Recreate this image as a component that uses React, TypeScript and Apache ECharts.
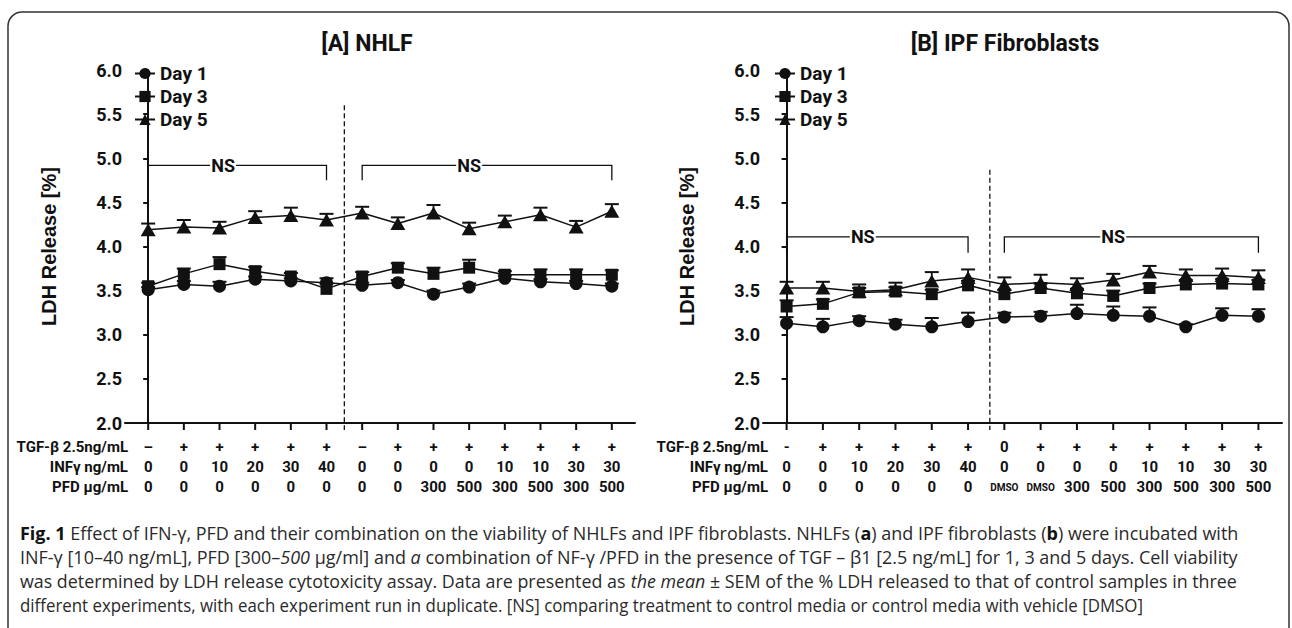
import { useEffect, useRef } from 'react';
import * as echarts from 'echarts';

const NARROW = "Roboto, 'Liberation Sans', sans-serif";
const WIDE = "'Liberation Sans', Arial, sans-serif";
const CAPFONT = "'Open Sans', 'Noto Sans', sans-serif";
const INK = '#111';

// category positions (14 treatment columns)
const positions = [0, 1, 2, 3, 4, 5, 6, 7, 8, 9, 10, 11, 12, 13];

// table rows under each panel
const rowLabels = ['TGF-β 2.5ng/mL', 'INFγ ng/mL', 'PFD µg/mL'];
const tgfA = ['–', '+', '+', '+', '+', '+', '–', '+', '+', '+', '+', '+', '+', '+'];
const infA = ['0', '0', '10', '20', '30', '40', '0', '0', '0', '0', '10', '10', '30', '30'];
const pfdA = ['0', '0', '0', '0', '0', '0', '0', '0', '300', '500', '300', '500', '300', '500'];
const tgfB = ['-', '+', '+', '+', '+', '+', '0', '+', '+', '+', '+', '+', '+', '+'];
const infB = ['0', '0', '10', '20', '30', '40', '0', '0', '0', '0', '10', '10', '30', '30'];
const pfdB = ['0', '0', '0', '0', '0', '0', 'DMSO', 'DMSO', '300', '500', '300', '500', '300', '500'];

// Panel A: NHLF
const day1A = [3.51, 3.57, 3.55, 3.63, 3.61, 3.59, 3.56, 3.59, 3.46, 3.54, 3.64, 3.6, 3.58, 3.55];
const day1AErr = [0.03, 0.04, 0.05, 0.03, 0.03, 0.05, 0.03, 0.03, 0.04, 0.04, 0.03, 0.03, 0.03, 0.03];
const day3A = [3.55, 3.69, 3.8, 3.72, 3.66, 3.52, 3.66, 3.76, 3.69, 3.76, 3.68, 3.68, 3.68, 3.68];
const day3AErr = [0.04, 0.06, 0.08, 0.05, 0.04, 0.06, 0.05, 0.05, 0.07, 0.09, 0.04, 0.06, 0.06, 0.05];
const day5A = [4.19, 4.22, 4.21, 4.33, 4.35, 4.3, 4.38, 4.26, 4.38, 4.2, 4.28, 4.36, 4.22, 4.4];
const day5AErr = [0.07, 0.08, 0.07, 0.07, 0.09, 0.07, 0.07, 0.07, 0.09, 0.07, 0.07, 0.08, 0.07, 0.08];

// Panel B: IPF fibroblasts
const day1B = [3.13, 3.09, 3.16, 3.12, 3.09, 3.15, 3.2, 3.21, 3.24, 3.22, 3.21, 3.09, 3.22, 3.21];
const day1BErr = [0.07, 0.09, 0.05, 0.05, 0.1, 0.1, 0.05, 0.05, 0.1, 0.1, 0.1, 0.03, 0.08, 0.08];
const day3B = [3.32, 3.35, 3.48, 3.49, 3.46, 3.56, 3.46, 3.53, 3.47, 3.44, 3.53, 3.57, 3.58, 3.57];
const day3BErr = [0.07, 0.05, 0.05, 0.05, 0.05, 0.05, 0.05, 0.05, 0.05, 0.06, 0.05, 0.05, 0.05, 0.05];
const day5B = [3.53, 3.53, 3.49, 3.51, 3.61, 3.65, 3.57, 3.59, 3.57, 3.62, 3.71, 3.67, 3.67, 3.65];
const day5BErr = [0.07, 0.07, 0.08, 0.08, 0.1, 0.09, 0.08, 0.09, 0.07, 0.07, 0.07, 0.07, 0.08, 0.08];

// separator and NS brackets
const sepXA = 5.5;
const sepTopA = 5.6;
const sepXB = 5.6;
const sepTopB = 4.87;
const bracketFrom = [0, 6];
const bracketTo = [5, 13];
const bracketNS = [2.1, 9];
const bracketTopA = 4.92;
const bracketDropA = 4.75;
const bracketTopB = 4.11;
const bracketDropB = 3.93;

const dayNames = ['Day 1', 'Day 3', 'Day 5'];
const daySymbols = ['circle', 'rect', 'triangle'];
const daySizes: any[] = [13, 12, [15, 13]];

const captionLines: string[][][] = [
  [['b', 'Fig. 1'], ['n', ' Effect of IFN-γ, PFD and their combination on the viability of NHLFs and IPF fibroblasts. NHLFs ('], ['b', 'a'], ['n', ') and IPF fibroblasts ('], ['b', 'b'], ['n', ') were incubated with']],
  [['n', 'INF-γ [10–40 ng/mL], PFD [300–'], ['i', '500'], ['n', ' µg/ml] and '], ['i', 'a'], ['n', ' combination of NF-γ /PFD in the presence of TGF – β1 [2.5 ng/mL] for 1, 3 and 5 days. Cell viability']],
  [['n', 'was determined by LDH release cytotoxicity assay. Data are presented as '], ['i', 'the mean'], ['n', ' ± SEM of the % LDH released to that of control samples in three']],
  [['n', 'different experiments, with each experiment run in duplicate. [NS] comparing treatment to control media or control media with vehicle [DMSO]']],
];
const captionRight = [1238, 1238, 1238, 1143];

const ROW_DY = [24, 44, 64];

function tableSeries(g: number, rows: string[][]) {
  return {
    type: 'custom', xAxisIndex: g, yAxisIndex: g, silent: true, clip: false, z: 5,
    data: positions.map((i) => [i, 2]),
    renderItem: (_p: any, api: any) => {
      const i = api.value(0);
      const p = api.coord([i, api.value(1)]);
      const children: any[] = [
        { type: 'line', shape: { x1: p[0], y1: p[1], x2: p[0], y2: p[1] + 7 }, style: { stroke: INK, lineWidth: 2 } },
      ];
      rows.forEach((r, k) => {
        const t = r[i];
        children.push({
          type: 'text', x: p[0], y: p[1] + ROW_DY[k],
          style: {
            text: t, fill: INK, fontFamily: NARROW, fontWeight: 'bold', fontSize: t === 'DMSO' ? 10 : 15,
            align: 'center', textAlign: 'center', verticalAlign: 'middle', textVerticalAlign: 'middle',
          },
        });
      });
      return { type: 'group', children };
    },
  };
}

function errorSeries(g: number, vals: number[], errs: number[]) {
  return {
    type: 'custom', xAxisIndex: g, yAxisIndex: g, silent: true, clip: false, z: 1,
    data: vals.map((v, i) => [i, v, errs[i]]),
    renderItem: (_p: any, api: any) => {
      const x = api.value(0);
      const v = api.value(1);
      const e = api.value(2);
      const p0 = api.coord([x, v]);
      const p1 = api.coord([x, v + e]);
      return {
        type: 'group', children: [
          { type: 'line', shape: { x1: p0[0], y1: p0[1], x2: p1[0], y2: p1[1] }, style: { stroke: INK, lineWidth: 1.8 } },
          { type: 'line', shape: { x1: p1[0] - 7, y1: p1[1], x2: p1[0] + 7, y2: p1[1] }, style: { stroke: INK, lineWidth: 2 } },
        ],
      };
    },
  };
}

function sepSeries(g: number, x: number, top: number) {
  return {
    type: 'custom', xAxisIndex: g, yAxisIndex: g, silent: true, clip: false, z: 1,
    data: [[x, top]],
    renderItem: (_p: any, api: any) => {
      const a = api.coord([api.value(0), api.value(1)]);
      const b = api.coord([api.value(0), 2]);
      return { type: 'line', shape: { x1: a[0], y1: a[1], x2: b[0], y2: b[1] + 7 }, style: { stroke: INK, lineWidth: 1.3, lineDash: [5, 3] } };
    },
  };
}

function bracketSeries(g: number, top: number, drop: number) {
  return {
    type: 'custom', xAxisIndex: g, yAxisIndex: g, silent: true, clip: false, z: 1,
    data: bracketFrom.map((f, k) => [f, bracketTo[k], bracketNS[k], top, drop]),
    renderItem: (_p: any, api: any) => {
      const a = api.coord([api.value(0), api.value(3)]);
      const b = api.coord([api.value(1), api.value(3)]);
      const n = api.coord([api.value(2), api.value(3)]);
      const d = api.coord([api.value(0), api.value(4)]);
      const gap = 13;
      const st = { stroke: INK, lineWidth: 1.3, fill: 'none' };
      return {
        type: 'group', children: [
          { type: 'polyline', shape: { points: [[a[0], d[1]], [a[0], a[1]], [n[0] - gap, a[1]]] }, style: st },
          { type: 'polyline', shape: { points: [[n[0] + gap, a[1]], [b[0], b[1]], [b[0], d[1]]] }, style: st },
          {
            type: 'text', x: n[0], y: a[1],
            style: { text: 'NS', fill: INK, fontFamily: NARROW, fontWeight: 'bold', fontSize: 18, align: 'center', textAlign: 'center', verticalAlign: 'middle', textVerticalAlign: 'middle' },
          },
        ],
      };
    },
  };
}

function lineSeries(g: number, k: number, vals: number[]) {
  return {
    type: 'line', name: dayNames[k], xAxisIndex: g, yAxisIndex: g, z: 3, clip: false,
    data: vals.map((v, i) => [i, v]),
    symbol: daySymbols[k], symbolSize: daySizes[k], showSymbol: true,
    lineStyle: { color: INK, width: 1.5 }, itemStyle: { color: INK },
  };
}

function xAxis(g: number) {
  return {
    type: 'value', gridIndex: g, min: -0.65, max: 13.65,
    axisLine: { show: true, onZero: false, lineStyle: { color: INK, width: 2 } },
    axisTick: { show: false }, axisLabel: { show: false }, splitLine: { show: false },
  };
}

function yAxis(g: number) {
  return {
    type: 'value', gridIndex: g, min: 2, max: 6, interval: 0.5,
    axisLine: { show: true, lineStyle: { color: INK, width: 2 } },
    axisTick: { show: true, length: 5, lineStyle: { color: INK, width: 2 } },
    axisLabel: { formatter: (v: number) => v.toFixed(1), fontSize: 18, fontWeight: 'bold', fontFamily: NARROW, color: INK, margin: 3 },
    splitLine: { show: false },
    name: 'LDH Release [%]', nameLocation: 'middle', nameGap: 66, nameRotate: 90,
    nameTextStyle: { fontSize: 20, fontWeight: 'bold', fontFamily: WIDE, color: INK },
  };
}

function buildCaption() {
  const canvas = document.createElement('canvas');
  const ctx = canvas.getContext('2d')!;
  const size = 18;
  const fontOf = (kind: string) =>
    `${kind === 'i' ? 'italic ' : ''}${kind === 'b' ? 'bold ' : ''}${size}px ${CAPFONT}`;
  const rich = {
    n: { fontSize: size, fontFamily: CAPFONT, fill: '#2a2a2a', color: '#2a2a2a' },
    b: { fontSize: size, fontFamily: CAPFONT, fontWeight: 'bold', fill: '#111', color: '#111' },
    i: { fontSize: size, fontFamily: CAPFONT, fontStyle: 'italic', fill: '#2a2a2a', color: '#2a2a2a' },
  };
  return captionLines.map((segs, li) => {
    let w = 0;
    segs.forEach(([k, t]) => { ctx.font = fontOf(k); w += ctx.measureText(t).width; });
    const target = captionRight[li] - 20;
    const sx = w > 0 ? target / w : 1;
    const text = segs.map(([k, t]) => `{${k}|${t}}`).join('');
    return {
      type: 'text', x: 20, y: 533 + li * 24, scaleX: sx, silent: true,
      style: { text, rich, fill: '#2a2a2a', fontSize: size, fontFamily: CAPFONT, align: 'left', textAlign: 'left', verticalAlign: 'middle', textVerticalAlign: 'middle' },
    };
  });
}

function rowLabelGraphics(rightX: number) {
  return rowLabels.map((t, k) => ({
    type: 'text', x: rightX, y: 423 + ROW_DY[k], silent: true,
    style: { text: t, fill: INK, fontFamily: NARROW, fontWeight: 'bold', fontSize: 15, align: 'right', textAlign: 'right', verticalAlign: 'middle', textVerticalAlign: 'middle' },
  }));
}

export default function App() {
  const ref = useRef<HTMLDivElement>(null);
  useEffect(() => {
    if (!ref.current) return;
    const chart = echarts.init(ref.current, undefined, { renderer: 'svg' });
    const legendCommon = {
      orient: 'vertical', data: dayNames, itemWidth: 20, itemHeight: 14, itemGap: 4,
      textStyle: { fontSize: 19, fontWeight: 'bold', fontFamily: NARROW, color: INK },
      selectedMode: false,
    };
    chart.setOption({
      animation: false,
      backgroundColor: '#fff',
      grid: [
        { left: 125, top: 70, width: 510, height: 353 },
        { left: 763, top: 70, width: 519, height: 353 },
      ],
      xAxis: [xAxis(0), xAxis(1)],
      yAxis: [yAxis(0), yAxis(1)],
      legend: [
        { ...legendCommon, left: 129, top: 59 },
        { ...legendCommon, left: 769, top: 59 },
      ],
      series: [
        tableSeries(0, [tgfA, infA, pfdA]),
        tableSeries(1, [tgfB, infB, pfdB]),
        sepSeries(0, sepXA, sepTopA),
        sepSeries(1, sepXB, sepTopB),
        bracketSeries(0, bracketTopA, bracketDropA),
        bracketSeries(1, bracketTopB, bracketDropB),
        errorSeries(0, day1A, day1AErr),
        errorSeries(0, day3A, day3AErr),
        errorSeries(0, day5A, day5AErr),
        errorSeries(1, day1B, day1BErr),
        errorSeries(1, day3B, day3BErr),
        errorSeries(1, day5B, day5BErr),
        lineSeries(0, 0, day1A),
        lineSeries(0, 1, day3A),
        lineSeries(0, 2, day5A),
        lineSeries(1, 0, day1B),
        lineSeries(1, 1, day3B),
        lineSeries(1, 2, day5B),
      ],
      graphic: [
        {
          type: 'rect', silent: true, z: -1,
          shape: { x: 8, y: 12, width: 1281, height: 700, r: 14 },
          style: { fill: 'none', stroke: '#333', lineWidth: 1.5 },
        },
        {
          type: 'text', x: 367, y: 43, silent: true,
          style: { text: '[A] NHLF', fill: INK, fontFamily: NARROW, fontWeight: 'bold', fontSize: 23, align: 'center', textAlign: 'center', verticalAlign: 'middle', textVerticalAlign: 'middle' },
        },
        {
          type: 'text', x: 1005, y: 43, silent: true,
          style: { text: '[B] IPF Fibroblasts', fill: INK, fontFamily: NARROW, fontWeight: 'bold', fontSize: 23, align: 'center', textAlign: 'center', verticalAlign: 'middle', textVerticalAlign: 'middle' },
        },
        ...rowLabelGraphics(128),
        ...rowLabelGraphics(768),
        ...buildCaption(),
      ],
    });
    return () => chart.dispose();
  }, []);
  return <div ref={ref} style={{ position: 'fixed', left: 0, top: 0, width: 1292, height: 628 }} />;
}
